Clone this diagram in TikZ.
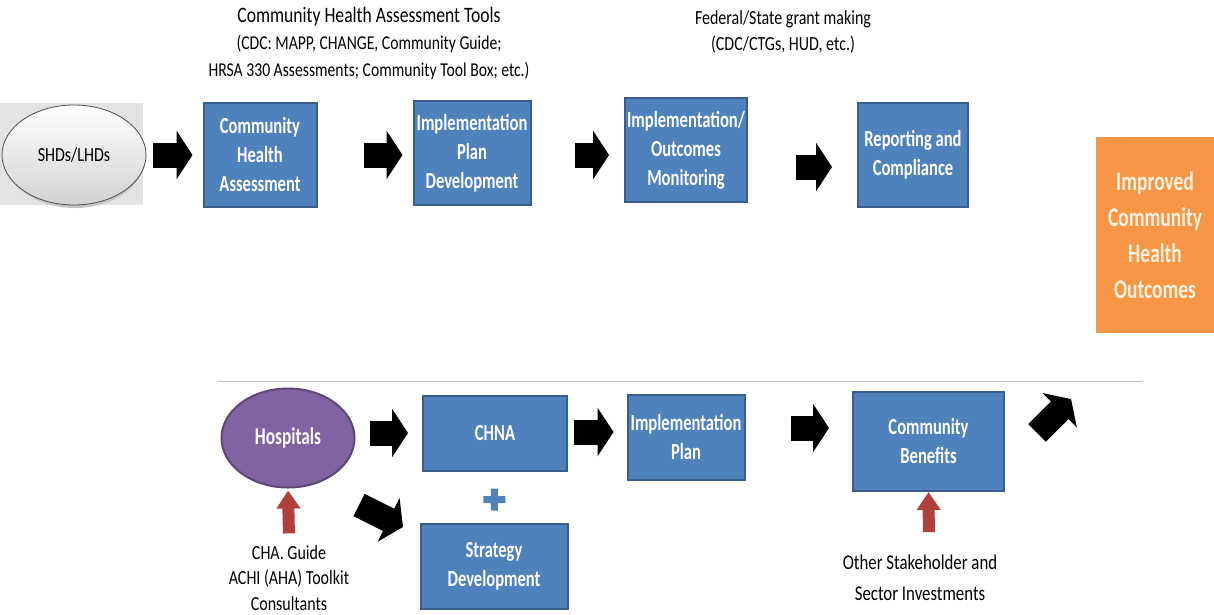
\documentclass[tikz,border=0pt]{standalone}
\usepackage{fontspec}
\setmainfont{Carlito}[FakeStretch=0.8]
\newfontfamily\boxfont{Carlito}[FakeStretch=0.72]
\usetikzlibrary{arrows.meta,shapes.geometric}
\definecolor{boxblue}{HTML}{4F81BD}
\definecolor{boxedge}{HTML}{385D8A}
\definecolor{hosppurple}{HTML}{8064A2}
\definecolor{hospedge}{HTML}{5C4776}
\definecolor{outorange}{HTML}{F79646}
\definecolor{outtext}{HTML}{FDF3E0}
\definecolor{invred}{HTML}{B0403D}
\tikzset{
  stepbox/.style={rectangle, fill=boxblue, draw=boxedge, line width=1pt, text=white,
    font=\boxfont\bfseries\fontsize{11.5}{14.5}\selectfont, align=center, inner sep=1pt},
  blk/.style={line width=12.5pt, black, -{Triangle[length=8pt,width=24pt]}},
  redup/.style={line width=6pt, invred, -{Triangle[length=9pt,width=11.5pt]}},
  note/.style={font=\fontsize{11}{13.5}\selectfont, align=center}
}
\begin{document}
\begin{tikzpicture}[x=0.5pt,y=-0.5pt]
\useasboundingbox (0,0) rectangle (1214,615);
% top row: health departments
\fill[gray!22] (0,103) rectangle (143,205);
\fill[gray!45] (75,158) ellipse (70 and 50);
\node[ellipse, minimum width=72pt, minimum height=50pt, top color=white, bottom color=gray!35,
  draw=gray!60!black, font=\fontsize{10}{12}\selectfont] (shd) at (74,155) {SHDs/LHDs};
\node[stepbox, minimum width=56.5pt, minimum height=52pt] (cha) at (260,155) {Community\\Health\\Assessment};
\node[stepbox, minimum width=58.5pt, minimum height=52pt] (ipd) at (472,153) {Implementation\\Plan\\Development};
\node[stepbox, minimum width=58.5pt, minimum height=52pt] (iom) at (686,150) {Implementation/\\Outcomes\\Monitoring};
\node[stepbox, minimum width=55pt, minimum height=52pt] (rep) at (913,155) {Reporting and\\Compliance};
\node[fill=outorange, minimum width=59.5pt, minimum height=98pt, text=outtext,
  font=\boxfont\bfseries\fontsize{13.5}{18}\selectfont, align=center] (out) at (1155,235) {Improved\\Community\\Health\\Outcomes};
\node[note] (tools) at (369,43) {Community Health Assessment Tools\\
  {\fontsize{9.8}{13.5}\selectfont(CDC: MAPP, CHANGE, Community Guide;}\\
  {\fontsize{9.8}{13.5}\selectfont HRSA 330 Assessments; Community Tool Box; etc.)}};
\node[note, font=\fontsize{10}{13}\selectfont] (grant) at (783,32) {Federal/State grant making\\(CDC/CTGs, HUD, etc.)};
\draw[blk, shorten <=3.5pt, shorten >=5pt] (shd) -- (cha);
\draw[blk, shorten <=23pt, shorten >=5pt] (cha) -- ([yshift=-1pt]ipd.west);
\draw[blk, shorten <=21.5pt, shorten >=7.5pt] ([yshift=-1pt]ipd.east) -- ([yshift=-2.5pt]iom.west);
\draw[blk, shorten <=24pt, shorten >=12.5pt] ([yshift=-8.5pt]iom.east) -- ([yshift=-6pt]rep.west);
% bottom row: hospitals
\draw[gray!50] (218,381) -- (1143,381);
\node[ellipse, fill=hosppurple, draw=hospedge, line width=1pt, minimum width=66.5pt, minimum height=49.5pt,
  text=white, font=\boxfont\bfseries\fontsize{12}{14}\selectfont] (hosp) at (288,438) {Hospitals};
\node[stepbox, minimum width=72pt, minimum height=37.5pt] (chna) at (495,433) {CHNA};
\node[stepbox, minimum width=73.5pt, minimum height=42.5pt] (strat) at (494,566) {Strategy\\Development};
\node[stepbox, minimum width=58.5pt, minimum height=42.5pt] (impl) at (686,437) {Implementation\\Plan};
\node[stepbox, minimum width=75.5pt, minimum height=49.5pt] (cben) at (928.5,441.5) {Community\\Benefits};
\node[note, font=\fontsize{10}{12.75}\selectfont] (guide) at (289,578) {CHA. Guide\\ACHI (AHA) Toolkit\\Consultants};
\node[note, font=\fontsize{10.5}{15.5}\selectfont] (other) at (920,578) {Other Stakeholder and\\Sector Investments};
\coordinate (dgs) at (359,505);
\coordinate (dge) at (403,527);
\coordinate (ups) at (1037,433);
\coordinate (upe) at (1071,399);
\draw[blk, shorten <=7pt, shorten >=7pt] ([yshift=2.5pt]hosp.east) -- (chna.west);
\draw[blk, shorten <=3pt, shorten >=6.5pt] ([yshift=0.5pt]chna.east) -- ([yshift=2.5pt]impl.west);
\draw[blk, shorten <=22.5pt, shorten >=11.5pt] ([yshift=4.5pt]impl.east) -- ([yshift=6.75pt]cben.west);
\draw[blk] (dgs) -- (dge);
\draw[blk] (ups) -- (upe);
\draw[redup, shorten <=2.5pt, shorten >=1pt] (guide.north) -- (hosp.south);
\draw[redup, shorten <=8pt, shorten >=0pt] ([xshift=4.5pt]other.north) -- (cben.south);
\path (chna.south) -- (strat.north) coordinate[pos=.55] (plus);
\fill[boxblue] ([shift={(-3.5,-11)}]plus) rectangle ([shift={(3.5,11)}]plus)
  ([shift={(-11,-3.5)}]plus) rectangle ([shift={(11,3.5)}]plus);
\end{tikzpicture}
\end{document}
